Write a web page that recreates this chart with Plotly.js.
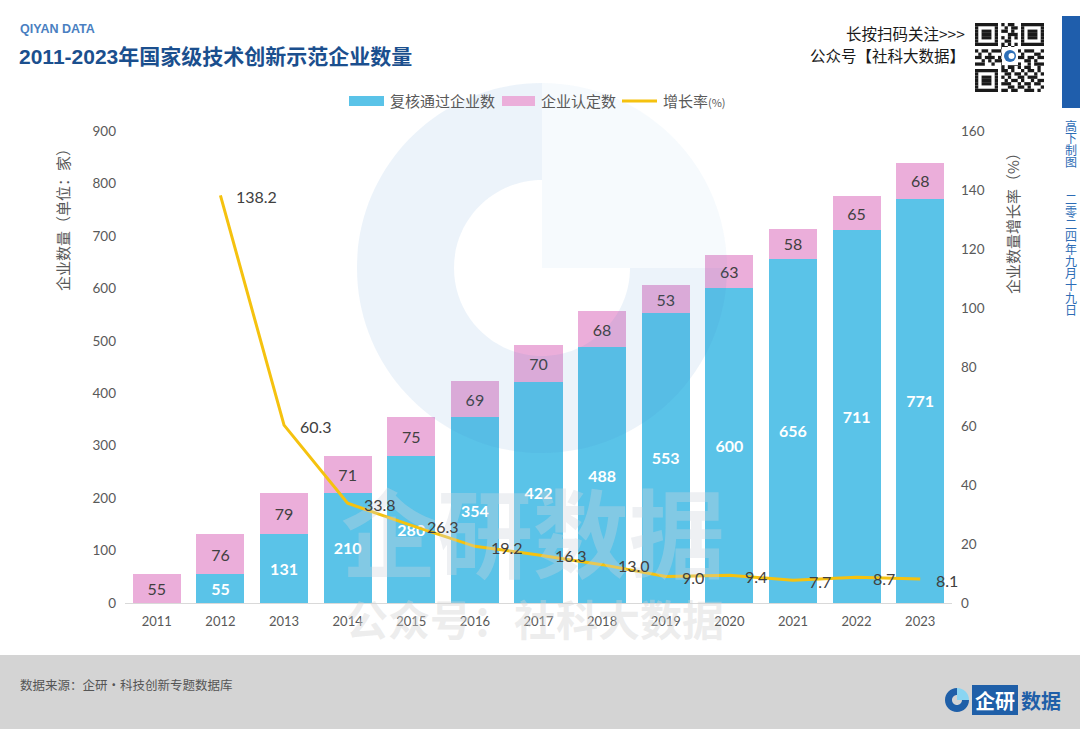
<!DOCTYPE html>
<html><head><meta charset="utf-8">
<script src="https://cdn.plot.ly/plotly-3.0.1.min.js"></script>
<style>html,body{margin:0;padding:0;background:#fff;}#chart{width:1080px;height:729px;}</style>
</head><body><div id="chart"></div>
<script>
// ---- data ----
const years = ['2011','2012','2013','2014','2015','2016','2017','2018','2019','2020','2021','2022','2023'];
const reviewedCount = [0,55,131,210,280,354,422,488,553,600,656,711,771];   // 复核通过企业数
const certifiedCount = [55,76,79,71,75,69,70,68,53,63,58,65,68];           // 企业认定数
const growthRate = [null,138.2,60.3,33.8,26.3,19.2,16.3,13.0,9.0,9.4,7.7,8.7,8.1]; // 增长率(%)
const seriesNames = ['复核通过企业数','企业认定数','增长率'];
const dateChars = ['高','下','制','图','','','二','零','二','四','年','九','月','十','九','日'];

// ---- geometry helpers ----
const Wd=1080,Ht=729,mL=125,mR=128,mT=131,mB=126;
const PW=Wd-mL-mR, PH=Ht-mT-mB;
const fx=x=>(x-mL)/PW, fy=y=>(Ht-mB-y)/PH;
const P=p=>fx(p[0]).toFixed(5)+','+fy(p[1]).toFixed(5);
function rectPx(x0,y0,x1,y1,color,layer){return {type:'rect',xref:'paper',yref:'paper',x0:fx(x0),x1:fx(x1),y0:fy(y1),y1:fy(y0),fillcolor:color,line:{width:0},layer:layer||'above'};}
function arcSeg(cx,cy,r,a0,a1){
  const k=4/3*Math.tan(Math.abs(a1-a0)/4), s=a1>a0?1:-1;
  const p0=[cx+r*Math.cos(a0),cy+r*Math.sin(a0)], p1=[cx+r*Math.cos(a1),cy+r*Math.sin(a1)];
  const c1=[p0[0]-s*k*r*Math.sin(a0),p0[1]+s*k*r*Math.cos(a0)];
  const c2=[p1[0]+s*k*r*Math.sin(a1),p1[1]-s*k*r*Math.cos(a1)];
  return ' C '+P(c1)+' '+P(c2)+' '+P(p1);
}
function arc(cx,cy,r,a0,a1){
  const n=Math.ceil(Math.abs(a1-a0)/(Math.PI/2)-1e-9); let s='';
  for(let i=0;i<n;i++){s+=arcSeg(cx,cy,r,a0+(a1-a0)*i/n,a0+(a1-a0)*(i+1)/n);}
  return s;
}
const H=Math.PI/2;
function threeQuarterRing(cx,cy,R,r,color,layer){
  const path='M '+P([cx+R,cy])+arc(cx,cy,R,0,3*H)+' L '+P([cx,cy-r])+arc(cx,cy,r,3*H,0)+' Z';
  return {type:'path',xref:'paper',yref:'paper',path:path,fillcolor:color,line:{width:0},layer:layer||'above'};
}
function quarterDisc(cx,cy,R,color,layer){
  const path='M '+P([cx,cy])+' L '+P([cx,cy-R])+arc(cx,cy,R,3*H,4*H)+' Z';
  return {type:'path',xref:'paper',yref:'paper',path:path,fillcolor:color,line:{width:0},layer:layer||'above'};
}
function circlePx(cx,cy,r,color,layer){return {type:'circle',xref:'paper',yref:'paper',x0:fx(cx-r),x1:fx(cx+r),y0:fy(cy+r),y1:fy(cy-r),fillcolor:color,line:{width:0},layer:layer||'above'};}
function ann(x,y,text,o){o=o||{};return {xref:'paper',yref:'paper',x:fx(x),y:fy(y),text:text,showarrow:false,xanchor:o.xa||'left',yanchor:o.ya||'middle',textangle:o.ang||0,
  font:{family:o.fam||'Noto Sans CJK SC, sans-serif',size:o.size||14,color:o.color||'#595959',weight:o.weight||'normal'}};}

const shapes=[], annotations=[];
// footer band
shapes.push(rectPx(0,655,1080,729,'#D4D4D4','below'));
// top-right blue bar
shapes.push(rectPx(1062,16,1080,108,'#1F5EAC','below'));
// watermark logo ring
shapes.push(threeQuarterRing(542,268,185,88,'rgba(70,140,205,0.10)'));
shapes.push(quarterDisc(542,268,185,'rgba(70,150,210,0.05)'));
// legend swatches
shapes.push(rectPx(349,96,384,106,'#5AC3E8','above'));
shapes.push(rectPx(502,96,535,106,'#EBAEDA','above'));
shapes.push({type:'line',xref:'paper',yref:'paper',x0:fx(622),x1:fx(657),y0:fy(101),y1:fy(101),line:{color:'#F5C20F',width:3},layer:'above'});

// QR code (decorative)
const qr=[
'111111101011001111111',
'100000100101101000001',
'101110101101001011101',
'101110100011101011101',
'101110101010101011101',
'100000100110001000001',
'111111101010101111111',
'000000001101000000000',
'101101110011010111001',
'010010001101101000110',
'110111010010011011011',
'001010111101000110100',
'111001001011110010111',
'000000001011010110010',
'111111101101001011010',
'100000100110110100101',
'101110101010011011100',
'101110100101101001011',
'101110101110010110110',
'100000100011011010001',
'111111101101100111010'];
const qx=975,qy=23,qs=69/21;
qr.forEach((row,i)=>{let j=0;while(j<row.length){if(row[j]==='1'){let k=j;while(k<row.length&&row[k]==='1')k++;shapes.push(rectPx(qx+j*qs,qy+i*qs,qx+k*qs,qy+(i+1)*qs,'#1a1a1a','above'));j=k;}else j++;}});
shapes.push(rectPx(1002,47,1018,65,'#ffffff','above'));
shapes.push(circlePx(1010,56,6,'#2C6FB8','above'));
shapes.push(circlePx(1011.5,56,3,'#ffffff','above'));

// bottom-right logo
shapes.push(threeQuarterRing(957,700,12,5,'#1F5FA8','above'));
shapes.push(quarterDisc(957,700,12,'#8AD5F2','above'));
shapes.push(rectPx(972,685,1018,715,'#1F5FA8','above'));

// header texts
annotations.push(ann(18,29,'QIYAN DATA',{fam:'Liberation Sans, Arial, sans-serif',size:12.5,color:'#4A7FC1',weight:'bold'}));
annotations.push(ann(17,57,'2011-2023年国家级技术创新示范企业数量',{fam:'Liberation Sans, Noto Sans CJK SC, sans-serif',size:21,color:'#1B4F8E',weight:'bold'}));
annotations.push(ann(967,33,'长按扫码关注&gt;&gt;&gt;',{xa:'right',size:15.5,color:'#1a1a1a'}));
annotations.push(ann(967,55,'公众号【社科大数据】',{xa:'right',size:15.5,color:'#1a1a1a'}));
// legend texts
annotations.push(ann(388,101,seriesNames[0],{size:15,color:'#595959'}));
annotations.push(ann(539,101,seriesNames[1],{size:15,color:'#595959'}));
annotations.push(ann(661,101,seriesNames[2]+'<span style="font-size:11px">(%)</span>',{size:15,color:'#595959'}));
// axis titles
annotations.push(ann(62,216,'企业数量（单位：家）',{xa:'center',ang:-90,size:15,color:'#595959'}));
annotations.push(ann(1012,220,'企业数量增长率（%）',{xa:'center',ang:-90,size:15,color:'#595959'}));
// vertical date text
dateChars.forEach((c,i)=>{ if(c) annotations.push(ann(1071,125+i*12.3,c,{xa:'center',size:12,color:'#2D6CB5'})); });
// footer
annotations.push(ann(18,684,'数据来源：企研·科技创新专题数据库',{size:12.5,color:'#555555'}));
annotations.push(ann(995,700,'企研',{xa:'center',size:20,color:'#ffffff',weight:'bold'}));
annotations.push(ann(1041,700,'数据',{xa:'center',size:20,color:'#1F5FA8',weight:'bold'}));
// watermark texts
annotations.push(ann(533,528,'企研数据',{xa:'center',size:96,color:'rgba(205,212,220,0.35)',weight:'bold'}));
annotations.push(ann(535,617,'公众号：社科大数据',{xa:'center',size:42,color:'rgba(212,212,212,0.42)',weight:'bold'}));
// growth labels (x given as category index)
years.forEach((yr,i)=>{ if(growthRate[i]!==null) annotations.push({xref:'x',yref:'y2',x:i,y:growthRate[i],text:growthRate[i].toFixed(1),showarrow:false,xanchor:'left',yanchor:'middle',xshift:14,yshift:-1,font:{family:'Lato, sans-serif',size:16,color:'#404040'}}); });

const traces=[
 {type:'bar',name:seriesNames[0],x:years,y:reviewedCount,marker:{color:'#5AC3E8'},text:reviewedCount.map(v=>v>0?String(v):''),textposition:'inside',insidetextanchor:'middle',textangle:0,
  textfont:{family:'Lato, sans-serif',size:16,color:'#ffffff',weight:'bold'},hoverinfo:'skip'},
 {type:'bar',name:seriesNames[1],x:years,y:certifiedCount,marker:{color:'#EBAEDA'},text:certifiedCount.map(String),textposition:'inside',insidetextanchor:'middle',textangle:0,
  textfont:{family:'Lato, sans-serif',size:16,color:'#404040'},hoverinfo:'skip'},
 {type:'scatter',mode:'lines',name:seriesNames[2],x:years,y:growthRate,yaxis:'y2',line:{color:'#F5C20F',width:3},hoverinfo:'skip'}
];

const layout={
 width:1080,height:729,margin:{l:mL,r:mR,t:mT,b:mB},paper_bgcolor:'#ffffff',plot_bgcolor:'rgba(0,0,0,0)',
 showlegend:false,barmode:'stack',bargap:0.245,
 font:{family:'Lato, Noto Sans CJK SC, sans-serif',color:'#595959'},
 xaxis:{type:'category',range:[-0.5,years.length-0.5],showline:true,linecolor:'#D9D9D9',linewidth:1,showgrid:false,zeroline:false,ticks:'',ticklabelstandoff:6,
  tickfont:{family:'Lato, sans-serif',size:13,color:'#595959'}},
 yaxis:{range:[0,900],dtick:100,showgrid:false,zeroline:false,showline:false,ticks:'',ticklabelstandoff:8,
  tickfont:{family:'Lato, sans-serif',size:13.5,color:'#595959'}},
 yaxis2:{range:[0,160],dtick:20,overlaying:'y',side:'right',showgrid:false,zeroline:false,showline:false,ticks:'',ticklabelstandoff:8,
  tickfont:{family:'Lato, sans-serif',size:13.5,color:'#595959'}},
 shapes:shapes,annotations:annotations
};
Plotly.newPlot('chart',traces,layout,{displayModeBar:false,staticPlot:true});
</script></body></html>
